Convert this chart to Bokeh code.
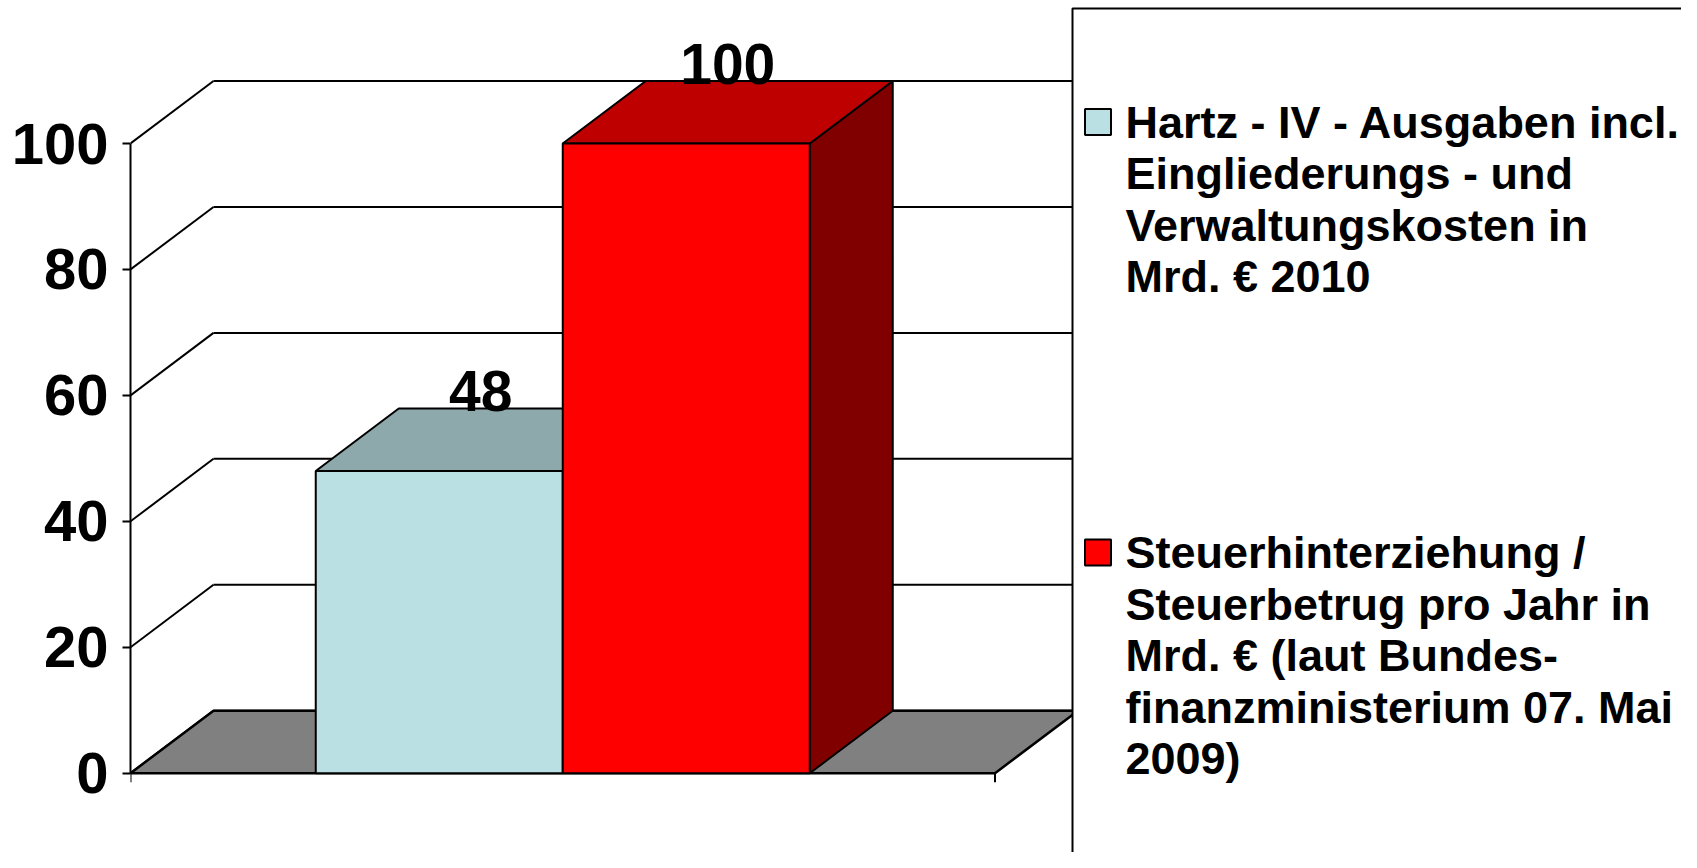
from bokeh.plotting import figure
from bokeh.models import Range1d, FixedTicker, ColumnDataSource
from bokeh.core.properties import value
from bokeh.embed import file_html
from bokeh.resources import INLINE

# ---------------- data ----------------
categories = ["Hartz-IV-Ausgaben 2010", "Steuerhinterziehung pro Jahr"]
values = [48, 100]
value_labels = ["48", "100"]
y_ticks = [0, 20, 40, 60, 80, 100]
legend_lines = [
    ["Hartz - IV - Ausgaben incl.", "Eingliederungs - und", "Verwaltungskosten in", "Mrd. \u20ac 2010"],
    ["Steuerhinterziehung /", "Steuerbetrug pro Jahr in", "Mrd. \u20ac (laut Bundes-",
     "finanzministerium 07. Mai", "2009)"],
]
front_colors = ["#BBE0E3", "#FF0000"]
top_colors = ["#8EA9AC", "#BE0000"]
side_colors = ["#5D7072", "#800000"]

# ---------------- layout constants (pixels) ----------------
W, H = 1681, 852
OFF = 0                    # canvas offset on the captured page
LEFT = 130                 # left panel (axis) width
PXU = 247.0                # px per category unit
PYU = 6.297                # px per value unit
ZERO_Y = 772.7             # canvas y of value 0
GAP = 0.75                 # floor gap each side (category units)
DX = 83 / PXU              # depth offset x (units)
DY = 62.5 / PYU            # depth offset y (value units)
FONT = value("Liberation Sans")

x0 = -GAP
x1 = len(values) + GAP
xs_start = x0
xs_end = x0 + (W - LEFT) / PXU
ys_end = ZERO_Y / PYU
ys_start = -(H - ZERO_Y) / PYU


def px2x(px):  # captured-page x -> data x
    return x0 + (px - OFF - LEFT) / PXU


def py2y(py):  # captured-page y -> data y
    return (ZERO_Y - (py - OFF)) / PYU


p = figure(frame_width=W - LEFT, frame_height=H, output_backend="svg",
           toolbar_location=None, x_range=Range1d(xs_start, xs_end),
           y_range=Range1d(ys_start, ys_end), min_border_left=LEFT,
           min_border_right=0, min_border_top=0, min_border_bottom=0,
           x_axis_type=None, y_axis_location="left")
p.outline_line_color = None
p.xgrid.visible = False
p.ygrid.visible = False
p.background_fill_color = "white"
p.border_fill_color = "white"

# y axis
ax = p.yaxis[0]
ax.ticker = FixedTicker(ticks=y_ticks)
ax.bounds = (0, 100)
ax.axis_line_width = 2
ax.axis_line_color = "black"
ax.major_tick_line_width = 2
ax.major_tick_out = 8
ax.major_tick_in = 0
ax.minor_tick_out = 0
ax.minor_tick_in = 0
ax.major_label_text_font = "Liberation Sans"
ax.major_label_text_font_style = "bold"
ax.major_label_text_font_size = "58px"
ax.major_label_text_color = "black"
ax.major_label_standoff = 14

# back wall gridlines + diagonals
p.segment(x0=[x0 + DX] * len(y_ticks), y0=[t + DY for t in y_ticks],
          x1=[x1 + DX] * len(y_ticks), y1=[t + DY for t in y_ticks],
          line_color="black", line_width=2)
p.segment(x0=[x0] * len(y_ticks), y0=y_ticks,
          x1=[x0 + DX] * len(y_ticks), y1=[t + DY for t in y_ticks],
          line_color="black", line_width=2)

# floor
p.patch(x=[x0, x1, x1 + DX, x0 + DX], y=[0, 0, DY, DY],
        fill_color="#808080", line_color="black", line_width=2.5)
# x axis end ticks
tick_len = 9 / PYU
p.segment(x0=[x0, x1], y0=[0, 0], x1=[x0, x1], y1=[-tick_len, -tick_len],
          line_color="black", line_width=2)

# bars (3D look)
for i, v in enumerate(values):
    l, r = i, i + 1
    p.patch(x=[r, r + DX, r + DX, r], y=[0, DY, v + DY, v],
            fill_color=side_colors[i], line_color="black", line_width=2)
    p.patch(x=[l, r, r + DX, l + DX], y=[v, v, v + DY, v + DY],
            fill_color=top_colors[i], line_color="black", line_width=2)
    p.quad(left=l, right=r, bottom=0, top=v, fill_color=front_colors[i],
           line_color="black", line_width=2)

# value labels
lab = ColumnDataSource(dict(x=[i + 0.5 + DX / 2 for i in range(len(values))],
                            y=[v + DY for v in values], t=value_labels))
p.text(x="x", y="y", text="t", source=lab, text_font=FONT,
       text_font_style="bold", text_font_size="57px", text_align="center",
       text_baseline="middle", y_offset=-17, text_color="black")

# legend box
p.quad(left=px2x(1072), right=px2x(1684), top=py2y(8), bottom=py2y(900),
       fill_color="white", line_color="black", line_width=2)
entry_first_line = [121.5, 552.0]
line_step = 51.6
for k, lines in enumerate(legend_lines):
    yc = entry_first_line[k]
    p.scatter(x=[px2x(1097.5)], y=[py2y(yc)], marker="square", size=26,
              fill_color=front_colors[k], line_color="black", line_width=2)
    src = ColumnDataSource(dict(
        x=[px2x(1125)] * len(lines),
        y=[py2y(yc + j * line_step) for j in range(len(lines))],
        t=lines))
    p.text(x="x", y="y", text="t", source=src, text_font=FONT,
           text_font_style="bold", text_font_size="45px", text_align="left",
           text_baseline="middle", text_color="black")

open("out.html", "w").write(file_html(p, INLINE))
